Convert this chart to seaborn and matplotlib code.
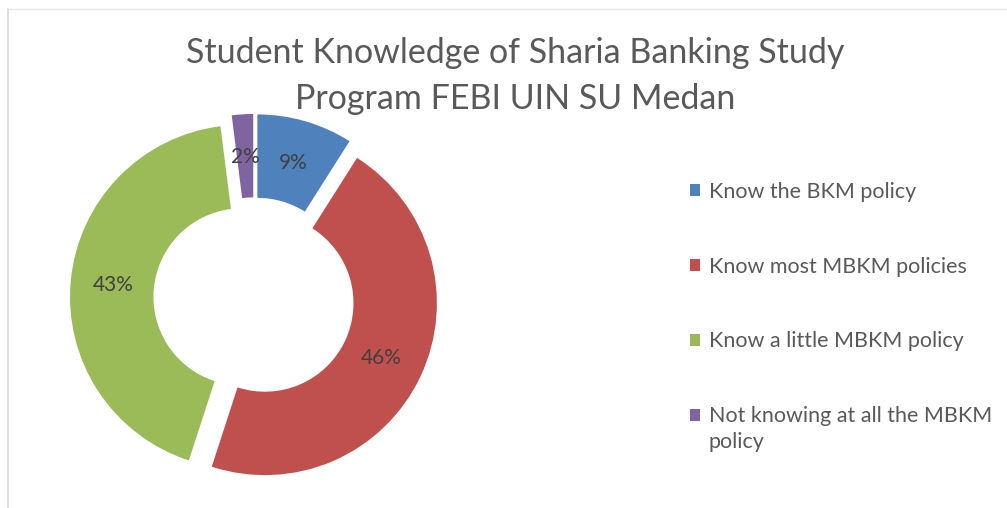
import matplotlib
matplotlib.use("Agg")
import matplotlib.pyplot as plt
import seaborn as sns
from matplotlib.lines import Line2D

sns.set_theme(style="white")
plt.rcParams['font.family'] = ['Lato', 'DejaVu Sans']

categories = ["Know the BKM policy",
              "Know most MBKM policies",
              "Know a little MBKM policy",
              "Not knowing at all the MBKM\npolicy"]
values = [9, 46, 43, 2]
colors = ["#4F81BD", "#C0504D", "#9BBB59", "#8064A2"]
title = "Student Knowledge of Sharia Banking Study\nProgram FEBI UIN SU Medan"

fig = plt.figure(figsize=(10.07, 5.08), dpi=100)
fig.patch.set_facecolor("white")

W, H = 1007, 508
cx, cy, r = 254, 298, 172
half = 1.1 * r
ax = fig.add_axes([(cx - half) / W, (H - cy - half) / H, 2 * half / W, 2 * half / H])

wedges, texts, autotexts = ax.pie(
    values, colors=colors, startangle=90, counterclock=False,
    explode=[0.07] * 4, radius=1.0, pctdistance=0.75,
    autopct="%.0f%%", wedgeprops=dict(width=0.485, linewidth=0),
    textprops=dict(color="#404040", fontsize=15))
ax.set_xlim(-1.1, 1.1)
ax.set_ylim(-1.1, 1.1)
ax.set_aspect("equal")
ax.axis("off")

fig.text(515 / W, 1 - 76 / H, title, ha="center", va="center",
         fontsize=24.5, color="#595959", linespacing=1.55)

first_lines = [c.split("\n")[0] for c in categories]
leg = fig.legend(wedges, first_lines, loc="upper left",
                 bbox_to_anchor=(681 / W, 1 - 173 / H), frameon=False,
                 fontsize=15.5, handlelength=0.5, handleheight=0.5,
                 handletextpad=0.4, labelspacing=2.55, borderaxespad=0)
for t in leg.get_texts():
    t.set_color("#595959")

# continuation lines of wrapped legend labels
fig.canvas.draw()
inv = fig.transFigure.inverted()
for t, c in zip(leg.get_texts(), categories):
    parts = c.split("\n")
    if len(parts) > 1:
        bb = t.get_window_extent()
        x0, y0 = inv.transform((bb.x0, bb.y0))
        fig.text(x0, y0 - 6 / H, "\n".join(parts[1:]), ha="left", va="top",
                 fontsize=15.5, color="#595959")

# light border of the chart area
fig.add_artist(Line2D([8 / W, 8 / W], [0, 1 - 9 / H], color="#d9d9d9", lw=1.2,
                      transform=fig.transFigure))
fig.add_artist(Line2D([8 / W, 1], [1 - 9 / H, 1 - 9 / H], color="#e6e6e6", lw=1.0,
                      transform=fig.transFigure))

fig.savefig("out.png", dpi=100, facecolor="white")
